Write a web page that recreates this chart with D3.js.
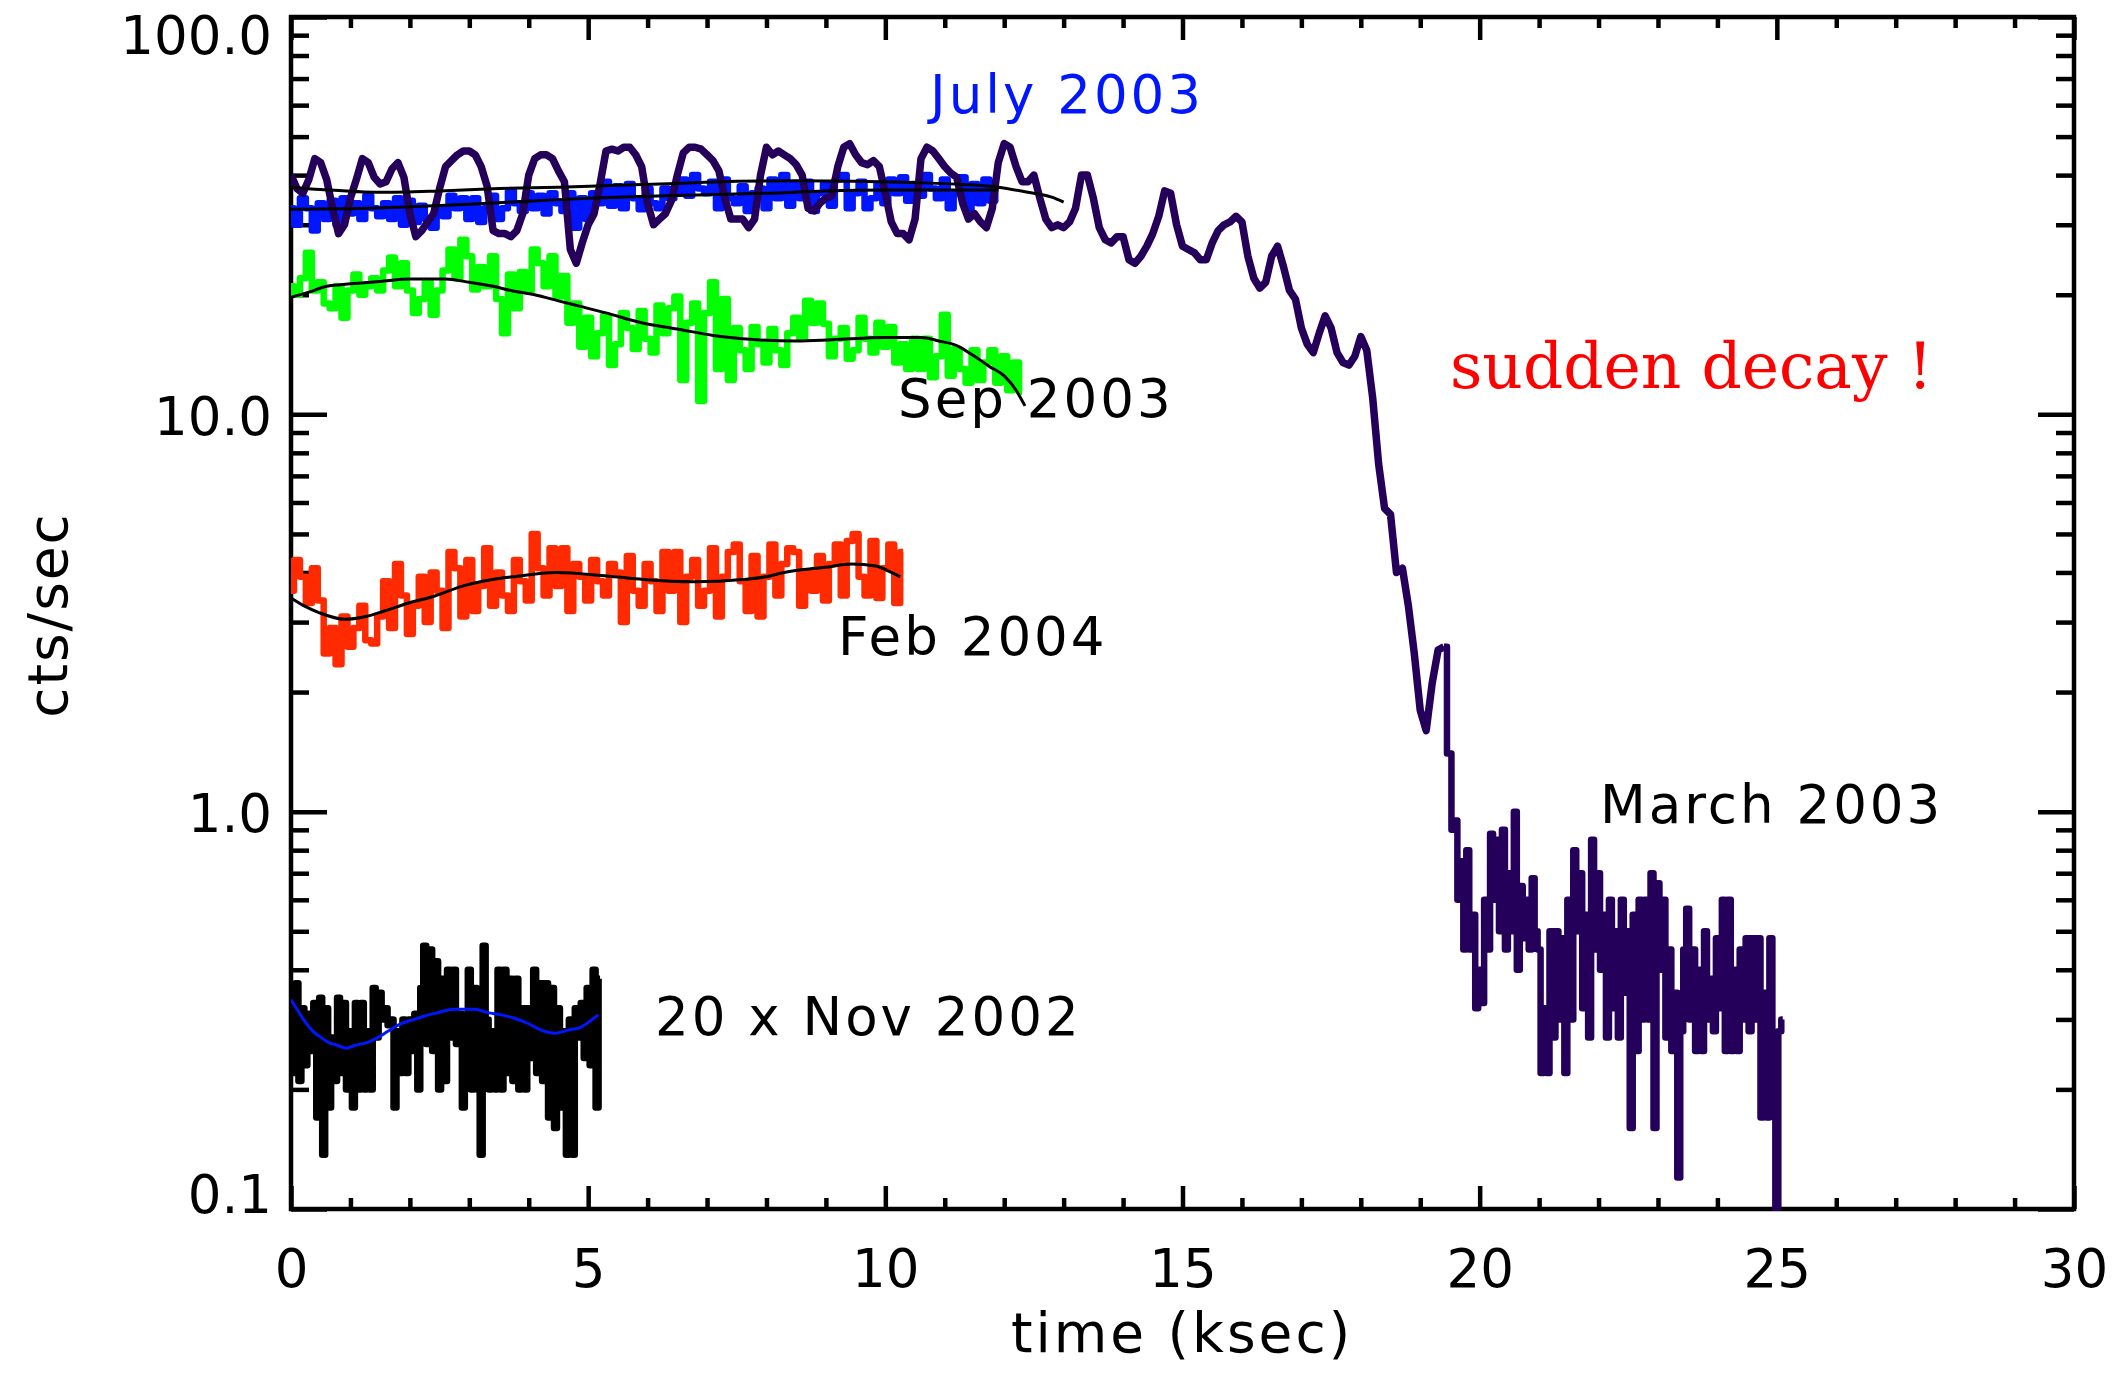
<!DOCTYPE html>
<html>
<head>
<meta charset="utf-8">
<script src="https://cdn.jsdelivr.net/npm/d3@7"></script>
<style>
  body { margin: 0; background: #fff; }
  svg { display: block; background: #fff; }
  .tick line { stroke: #000; stroke-width: 4.5; }
  .domain { display: none; }
  text { font-family: "DejaVu Sans", sans-serif; }
</style>
</head>
<body>
<svg id="svg"></svg>
<script>
// light curves, counts per second, time bins in ksec
var marchBin = 0.1;
var march = [
  40, 37, 36, 39, 44, 43, 39, 33, 28.5, 30,
  35, 39, 44, 43, 39.5, 38, 38.5, 41.5, 43, 39.5,
  32, 28, 29, 30.5, 32, 37, 42, 43.5, 45, 46,
  46, 45, 42, 37.5, 29, 28.5, 28.5, 28, 29, 32,
  40, 44, 45, 45, 44, 41, 38.5, 26, 24, 27,
  30, 32, 38, 46, 46.5, 46, 47, 47, 45, 42,
  34, 30, 31, 32, 34.5, 40, 45.5, 47, 47, 46.5,
  45, 43.5, 41, 35, 31, 31, 31, 29.5, 31, 40,
  47, 45, 46, 45, 44, 42.5, 40, 33, 32.5, 34,
  35, 35.5, 42, 47, 48, 45, 43, 42.5, 43.5, 42,
  36, 30.5, 28.5, 28.5, 27.5, 31, 44, 47, 46, 44,
  42, 40.5, 39.5, 34, 31, 32, 30.5, 29.5, 33, 43,
  48, 47, 42, 38.5, 38.5, 40, 35, 31, 29.5, 30,
  29.5, 30.5, 33, 40, 40, 35, 29.5, 27.5, 27, 28,
  28, 24.5, 24, 25, 26.5, 28.5, 31.5, 36.5, 36, 30,
  26.5, 26, 25.5, 24.5, 24.5, 27, 29, 30, 30.5, 31.5,
  30.5, 25, 22, 20.8, 21.5, 25, 26.5, 23.5, 20.5, 19.5,
  16.5, 15, 14.3, 16, 17.7, 16.5, 14.3, 13.5, 13.3, 14,
  15.7, 14.5, 11, 7.5, 5.8, 5.6, 4.0, 4.1, 3.3, 2.5,
  1.8, 1.6, 2.1, 2.55, 2.6
];
// after the decay the March curve is binned finer
var marchTailStart = 19.5, marchTailBin = 0.05;
var marchTail = [
  1.4, 0.9, 0.95, 0.6, 0.75, 0.45, 0.8, 0.45, 0.55, 0.32,
  0.4, 0.33, 0.6, 0.45, 0.88, 0.6, 0.85, 0.5, 0.9, 0.45,
  0.7, 0.5, 1.0, 0.4, 0.65, 0.48, 0.6, 0.45, 0.68, 0.5,
  0.45, 0.22, 0.32, 0.22, 0.5, 0.27, 0.5, 0.3, 0.48, 0.22,
  0.6, 0.3, 0.8, 0.5, 0.7, 0.32, 0.55, 0.27, 0.85, 0.45,
  0.7, 0.4, 0.55, 0.27, 0.6, 0.32, 0.5, 0.27, 0.6, 0.35,
  0.5, 0.16, 0.55, 0.25, 0.6, 0.3, 0.6, 0.3, 0.7, 0.16,
  0.66, 0.4, 0.6, 0.27, 0.45, 0.25, 0.35, 0.12, 0.28, 0.45,
  0.57, 0.3, 0.45, 0.25, 0.4, 0.25, 0.5, 0.3, 0.38, 0.28,
  0.48, 0.32, 0.6, 0.25, 0.6, 0.25, 0.4, 0.25, 0.45, 0.3,
  0.48, 0.28, 0.48, 0.3, 0.48, 0.17, 0.35, 0.17, 0.48, 0.2,
  0.1, 0.28, 0.3
];

var julyBin = 0.1;
var july = [
  33, 30, 35, 33, 29, 34, 31, 34.5, 30, 35,
  32, 34, 31, 35.5, 33, 31.5, 34, 31, 35, 30,
  34.5, 30.5, 33.5, 31, 29.5, 33, 31.5, 35.5, 33, 35,
  31, 35, 30.5, 33, 35.5, 31, 33, 36.5, 34, 32.5,
  36, 33, 35.5, 32, 36, 34, 32.5, 36, 29.5, 35,
  31, 36, 34, 38.5, 33.5, 37.5, 33, 38, 35, 32.8,
  37, 34, 33, 37, 35, 36, 39, 35.5, 40, 37,
  36, 38.5, 33, 39, 35, 34, 37.5, 32.5, 36, 37,
  33, 39, 35, 40, 33.5, 38, 35, 38.5, 32.5, 36,
  38, 33.5, 39, 40, 33, 36, 38.5, 33, 35, 38,
  34, 39, 36, 39.5, 34.5, 38, 35.5, 40, 37, 35,
  39, 33, 36, 39.5, 32.5, 38, 34, 39, 34.5, 38.5
];

var sepBin = 0.1;
var sep = [
  21, 20, 22, 25.5, 20.5, 21.5, 19, 18.5, 21, 17.5,
  20.5, 22.5, 20, 21, 22, 20.5, 23, 24.8, 21, 24,
  20.5, 18, 19.5, 21.5, 17.8, 20.5, 23, 26, 22, 27.5,
  25, 20.6, 23.5, 21, 25, 19.5, 16, 22.5, 18.5, 22.8,
  20.5, 26, 24, 21, 25, 19.8, 22.3, 17, 19, 14.8,
  17.5, 14, 16, 17.7, 13.3, 15, 18, 16.5, 14.6, 18.2,
  15.5, 14.3, 18.8, 16, 18.5, 19.8, 12.2, 17, 19, 10.8,
  18, 21.5, 13, 19.5, 12.2, 16.5, 14.5, 13, 16.6, 15,
  13.5, 16.4, 14.5, 13.3, 16, 17.5, 15.5, 19.3, 17, 19,
  16.9, 14, 15.5, 16.5, 13.8, 14.5, 17.5, 15.5, 14.3, 17,
  14.8, 16.6, 13.5, 15, 13, 15.5, 13, 15.5, 12.4, 14,
  17.8, 12.5, 14.6, 13, 12, 14.5, 12.2, 13.5, 14.5, 12,
  14, 11.5, 13.5, 11.4
];

var febBin = 0.1;
var feb = [
  3.6, 4.3, 3.9, 3.35, 4.1, 3.4, 2.5, 2.9, 2.35, 3.1,
  2.6, 2.9, 3.3, 2.7, 2.65, 3.1, 3.8, 2.9, 4.2, 3.5,
  2.8, 3.3, 3.9, 3.0, 4.0, 3.6, 2.9, 4.5, 4.1, 3.1,
  4.3, 3.2, 3.7, 4.6, 3.3, 4.0, 3.5, 3.2, 4.3, 3.8,
  3.4, 5.0, 4.1, 3.5, 4.6, 3.7, 4.6, 3.2, 4.2, 3.9,
  3.4, 4.3, 3.8, 3.5, 4.2, 4.0, 3.0, 4.4, 3.6, 3.3,
  4.2, 3.8, 3.2, 4.5, 3.6, 4.5, 3.0, 3.9, 4.3, 3.3,
  3.6, 4.6, 3.1, 3.9, 4.5, 4.7, 3.8, 3.2, 4.4, 3.1,
  3.9, 4.7, 3.5, 4.2, 4.6, 4.5, 3.3, 4.0, 3.6, 4.4,
  3.4, 4.2, 4.7, 3.5, 4.8, 5.0, 3.9, 3.5, 4.8, 3.45,
  4.1, 4.7, 3.35, 4.5
];

// Nov 2002 already multiplied by 20
var novBin = 0.05;
var nov = [
  0.36, 0.22, 0.37, 0.21, 0.32, 0.23, 0.31, 0.25, 0.33, 0.17,
  0.34, 0.137, 0.32, 0.18, 0.27, 0.21, 0.34, 0.22, 0.33, 0.2,
  0.28, 0.18, 0.33, 0.2, 0.33, 0.2, 0.28, 0.2, 0.36, 0.27,
  0.35, 0.3, 0.32, 0.29, 0.3, 0.18, 0.28, 0.22, 0.3, 0.22,
  0.3, 0.25, 0.31, 0.2, 0.36, 0.46, 0.26, 0.45, 0.25, 0.42,
  0.2, 0.38, 0.21, 0.4, 0.27, 0.4, 0.26, 0.31, 0.18, 0.3,
  0.4, 0.2, 0.36, 0.2, 0.137, 0.46, 0.3, 0.2, 0.28, 0.2,
  0.4, 0.2, 0.4, 0.22, 0.38, 0.21, 0.38, 0.2, 0.32, 0.2,
  0.32, 0.24, 0.4, 0.22, 0.37, 0.21, 0.37, 0.17, 0.36, 0.16,
  0.32, 0.18, 0.28, 0.137, 0.3, 0.137, 0.32, 0.27, 0.33, 0.24,
  0.36, 0.23, 0.4, 0.18, 0.38
];

// smooth fits
var fitJulyT = [0, 1, 2, 3, 4, 5, 6, 7, 8, 9, 10, 11, 11.9];
var fitJulyV = [32.8, 32.9, 33.3, 33.8, 34.4, 35.0, 35.4, 35.7, 36.0, 36.5, 36.7, 36.7, 36.7];
var fitMarchT = [0, 0.5, 1.5, 2.5, 3.5, 4.5, 5.5, 6.5, 7.5, 8.5, 9.5, 10.5, 11.3, 11.9, 12.4, 12.8, 13.0];
var fitMarchV = [37.3, 36.8, 36.2, 36.5, 37.0, 37.3, 37.7, 38.1, 38.6, 38.7, 38.6, 38.3, 37.9, 37.3, 36.2, 35.2, 34.2];
var fitSepT = [0, 0.3, 0.6, 1.0, 1.5, 2.0, 2.6, 3.0, 3.4, 3.7, 4.1, 4.5, 4.8, 5.3, 5.9, 6.5, 7.1, 7.6, 8.5, 9.1, 10.0, 10.6, 10.9, 11.2, 11.5, 11.75, 12.0, 12.2, 12.35];
var fitSepV = [19.7, 20.3, 21.0, 21.3, 21.6, 21.9, 21.9, 21.5, 21.0, 20.5, 20.0, 19.3, 18.8, 18.0, 17.0, 16.4, 15.8, 15.5, 15.3, 15.4, 15.6, 15.6, 15.3, 14.9, 14.0, 13.2, 12.5, 11.5, 10.5];
var fitFebT = [0, 0.23, 0.47, 0.9, 1.26, 1.57, 1.98, 2.42, 2.87, 3.39, 3.73, 4.45, 5.31, 5.93, 6.79, 7.6, 7.99, 8.3, 8.64, 8.98, 9.43, 9.84, 10.1, 10.25];
var fitFebV = [3.45, 3.29, 3.17, 3.05, 3.1, 3.2, 3.35, 3.49, 3.69, 3.84, 3.9, 4.0, 3.92, 3.84, 3.79, 3.84, 3.9, 4.0, 4.07, 4.12, 4.2, 4.15, 4.0, 3.9];
var fitNovT = [0, 0.09, 0.23, 0.37, 0.51, 0.62, 0.79, 0.93, 1.07, 1.3, 1.46, 1.63, 1.86, 2.08, 2.25, 2.47, 2.75, 3.09, 3.31, 3.54, 3.76, 3.99, 4.21, 4.44, 4.66, 4.88, 5.03, 5.17];
var fitNovV = [0.336, 0.32, 0.297, 0.28, 0.27, 0.263, 0.258, 0.254, 0.258, 0.263, 0.27, 0.28, 0.293, 0.3, 0.306, 0.312, 0.318, 0.318, 0.312, 0.308, 0.302, 0.293, 0.282, 0.277, 0.282, 0.287, 0.297, 0.308];

var xMajor = [0, 5, 10, 15, 20, 25, 30];
var xMinor = [1, 2, 3, 4, 6, 7, 8, 9, 11, 12, 13, 14, 16, 17, 18, 19, 21, 22, 23, 24, 26, 27, 28, 29];
var yMajor = [0.1, 1, 10, 100];
var yMinor = [0.2, 0.3, 0.4, 0.5, 0.6, 0.7, 0.8, 0.9, 2, 3, 4, 5, 6, 7, 8, 9, 20, 30, 40, 50, 60, 70, 80, 90];
var yLabels = ["0.1", "1.0", "10.0", "100.0"];

// note: "top" is taken by window.top, so plot edges get a prefix
var width = 2115, height = 1373,
    plotL = 291, plotR = 2074, plotT = 17, plotB = 1209;

var svg = d3.select("#svg")
    .attr("width", width)
    .attr("height", height);

var x = d3.scaleLinear().domain([0, 30]).range([plotL, plotR]);
var y = d3.scaleLog().domain([0.1, 100]).range([plotB, plotT]);

function binned(vals, bin, start) {
  return vals.map(function(v, i) { return { t: (start || 0) + i * bin, v: v }; });
}
function paired(ts, vs) {
  return ts.map(function(t, i) { return { t: t, v: vs[i] }; });
}

// ticks, all pointing inward
function addAxis(axis, tx, ty) {
  return svg.append("g")
      .attr("transform", "translate(" + tx + "," + ty + ")")
      .call(axis);
}
addAxis(d3.axisBottom(x).tickValues(xMinor).tickSize(-11).tickFormat(""), 0, plotB);
addAxis(d3.axisTop(x).tickValues(xMinor).tickSize(-11).tickFormat(""), 0, plotT);
addAxis(d3.axisTop(x).tickValues(xMajor).tickSize(-23).tickFormat(""), 0, plotT);
var xAx = addAxis(d3.axisBottom(x).tickValues(xMajor).tickSize(-23).tickPadding(40)
    .tickFormat(d3.format("d")), 0, plotB);

addAxis(d3.axisLeft(y).tickValues(yMinor).tickSize(-18).tickFormat(""), plotL, 0);
addAxis(d3.axisRight(y).tickValues(yMinor).tickSize(-18).tickFormat(""), plotR, 0);
addAxis(d3.axisRight(y).tickValues(yMajor).tickSize(-36).tickFormat(""), plotR, 0);
var yAx = addAxis(d3.axisLeft(y).tickValues(yMajor).tickSize(-36).tickPadding(19)
    .tickFormat(function(d, i) { return yLabels[i]; }), plotL, 0);

svg.selectAll(".tick text")
    .attr("fill", "#000")
    .style("font-size", "53px")
    .style("font-family", "DejaVu Sans");
// IDL pulls the end labels inside the frame
yAx.selectAll(".tick text")
    .attr("dy", function(d) { return d === 100 ? "0.68em" : (d === 0.1 ? "0.06em" : "0.38em"); });

svg.append("rect")
    .attr("x", plotL).attr("y", plotT)
    .attr("width", plotR - plotL).attr("height", plotB - plotT)
    .attr("fill", "none")
    .attr("stroke", "#000")
    .attr("stroke-width", 4.5);

svg.append("clipPath").attr("id", "plot")
  .append("rect")
    .attr("x", plotL).attr("y", plotT - 2)
    .attr("width", plotR - plotL).attr("height", plotB - plotT + 4);

// noisy binned data drawn as steps, like the original histogram-style plot
var step = d3.line()
    .curve(d3.curveStep)
    .x(function(d) { return x(d.t); })
    .y(function(d) { return y(d.v); });
var line = d3.line()
    .x(function(d) { return x(d.t); })
    .y(function(d) { return y(d.v); });
var smooth = d3.line()
    .curve(d3.curveMonotoneX)
    .x(function(d) { return x(d.t); })
    .y(function(d) { return y(d.v); });

var g = svg.append("g").attr("clip-path", "url(#plot)");

var marchMain = binned(march, marchBin);
var curves = [
  { d: step(binned(july, julyBin)), color: "#0016ff", w: 6.5 },
  { d: line(marchMain), color: "#24005a", w: 7.5 },
  { d: step([marchMain[marchMain.length - 1]].concat(binned(marchTail, marchTailBin, marchTailStart))), color: "#24005a", w: 6.5 },
  { d: step(binned(sep, sepBin)), color: "#00ff00", w: 6.5 },
  { d: step(binned(feb, febBin)), color: "#ff2a00", w: 6.5 },
  { d: step(binned(nov, novBin)), color: "#000000", w: 6.5 }
];

g.selectAll("path.lc")
    .data(curves)
    .enter().append("path")
      .attr("class", "lc")
      .attr("d", function(d) { return d.d; })
      .attr("fill", "none")
      .attr("stroke", function(d) { return d.color; })
      .attr("stroke-width", function(d) { return d.w; })
      .attr("stroke-linejoin", "round");

var fits = [
  { pts: paired(fitMarchT, fitMarchV), color: "#000" },
  { pts: paired(fitJulyT, fitJulyV), color: "#000" },
  { pts: paired(fitSepT, fitSepV), color: "#000" },
  { pts: paired(fitFebT, fitFebV), color: "#000" },
  { pts: paired(fitNovT, fitNovV), color: "#0016ff" }
];

g.selectAll("path.fit")
    .data(fits)
    .enter().append("path")
      .attr("class", "fit")
      .attr("d", function(d) { return smooth(d.pts); })
      .attr("fill", "none")
      .attr("stroke", function(d) { return d.color; })
      .attr("stroke-width", 3);

// labels
var notes = [
  { text: "July 2003", x: 930, y: 113, color: "#0016ff" },
  { text: "Sep 2003", x: 898, y: 417, color: "#000" },
  { text: "Feb 2004", x: 838, y: 655, color: "#000" },
  { text: "March 2003", x: 1600, y: 823, color: "#000" },
  { text: "20 x Nov 2002", x: 655, y: 1035, color: "#000" }
];
svg.selectAll("text.note")
    .data(notes)
    .enter().append("text")
      .attr("class", "note")
      .attr("x", function(d) { return d.x; })
      .attr("y", function(d) { return d.y; })
      .attr("fill", function(d) { return d.color; })
      .style("font-size", "53px")
      .style("letter-spacing", "3px")
      .text(function(d) { return d.text; });

svg.append("text")
    .attr("x", 1450).attr("y", 388)
    .attr("fill", "#ff0000")
    .style("font-family", "DejaVu Serif, serif")
    .style("font-size", "63px")
    .text("sudden decay !");

svg.append("text")
    .attr("x", 1182).attr("y", 1352)
    .attr("text-anchor", "middle")
    .style("font-size", "55px")
    .style("letter-spacing", "3px")
    .text("time (ksec)");

svg.append("text")
    .attr("transform", "translate(67,615) rotate(-90)")
    .attr("text-anchor", "middle")
    .style("font-size", "55px")
    .style("letter-spacing", "2px")
    .text("cts/sec");
</script>
</body>
</html>
